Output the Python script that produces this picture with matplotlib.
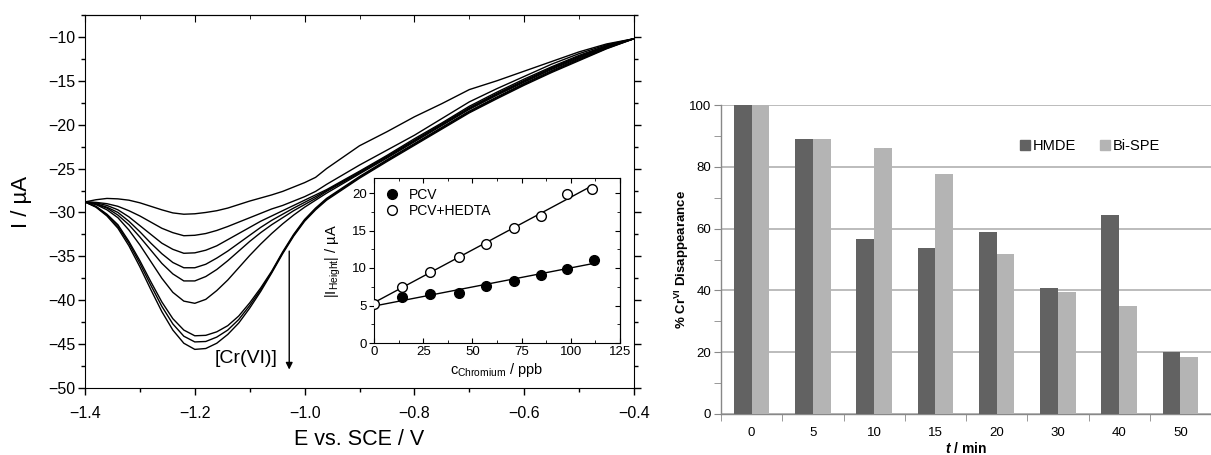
import numpy as np
import matplotlib
matplotlib.use("Agg")
import matplotlib.pyplot as plt
from matplotlib.ticker import MultipleLocator, FixedLocator, NullFormatter
from matplotlib.patches import Patch

plt.rcParams['font.family'] = ['Liberation Sans', 'DejaVu Sans']
plt.rcParams['mathtext.fontset'] = 'custom'
plt.rcParams['mathtext.rm'] = 'Liberation Sans'
plt.rcParams['mathtext.it'] = 'Liberation Sans:italic:bold'
plt.rcParams['mathtext.bf'] = 'Liberation Sans:bold'

# ---------------- Data: voltammograms ----------------
potential = [-1.40, -1.38, -1.36, -1.34, -1.32, -1.30, -1.28, -1.26, -1.24, -1.22,
             -1.20, -1.18, -1.16, -1.14, -1.12, -1.10, -1.08, -1.06, -1.04, -1.02,
             -1.00, -0.98, -0.96, -0.90, -0.85, -0.80, -0.75, -0.70, -0.65, -0.60,
             -0.55, -0.50, -0.45, -0.40]

curve1 = [-28.8, -28.55, -28.4, -28.45, -28.6, -28.9, -29.3, -29.7, -30.05, -30.2,
          -30.15, -30.0, -29.8, -29.5, -29.1, -28.7, -28.35, -28.0, -27.6, -27.1,
          -26.6, -26.0, -25.0, -22.4, -20.8, -19.1, -17.6, -16.0, -15.0, -13.9,
          -12.8, -11.7, -10.8, -10.2]
curve2 = [-28.8, -28.85, -29.0, -29.3, -29.8, -30.4, -31.1, -31.8, -32.3, -32.65,
          -32.6, -32.4, -32.05, -31.6, -31.1, -30.6, -30.1, -29.6, -29.2, -28.7,
          -28.2, -27.6, -26.8, -24.6, -22.9, -21.2, -19.3, -17.4, -15.9, -14.5,
          -13.1, -11.9, -10.9, -10.2]
curve3 = [-28.8, -28.9, -29.2, -29.7, -30.5, -31.5, -32.5, -33.5, -34.2, -34.65,
          -34.6, -34.3, -33.8, -33.1, -32.4, -31.7, -31.0, -30.4, -29.8, -29.2,
          -28.6, -28.0, -27.4, -25.3, -23.5, -21.6, -19.8, -17.9, -16.3, -14.8,
          -13.4, -12.1, -11.0, -10.2]
curve4 = [-28.8, -29.0, -29.4, -30.0, -31.0, -32.2, -33.5, -34.7, -35.7, -36.3,
          -36.3, -35.9, -35.2, -34.4, -33.5, -32.6, -31.7, -30.9, -30.2, -29.5,
          -28.85, -28.2, -27.5, -25.4, -23.6, -21.75, -19.9, -18.05, -16.45, -14.95,
          -13.5, -12.2, -11.05, -10.2]
curve5 = [-28.8, -29.05, -29.5, -30.3, -31.4, -32.8, -34.3, -35.8, -37.0, -37.8,
          -37.8, -37.3, -36.5, -35.5, -34.4, -33.3, -32.3, -31.4, -30.6, -29.8,
          -29.1, -28.4, -27.6, -25.5, -23.7, -21.85, -20.0, -18.15, -16.55, -15.05,
          -13.6, -12.3, -11.1, -10.2]
curve6 = [-28.8, -29.1, -29.7, -30.6, -32.0, -33.7, -35.6, -37.5, -39.1, -40.1,
          -40.35, -39.9, -38.9, -37.7, -36.3, -34.9, -33.6, -32.4, -31.3, -30.3,
          -29.4, -28.6, -27.8, -25.6, -23.8, -21.95, -20.1, -18.25, -16.65, -15.15,
          -13.7, -12.4, -11.15, -10.2]
curve7 = [-28.8, -29.3, -30.2, -31.4, -33.3, -35.5, -37.9, -40.2, -42.1, -43.4,
          -44.05, -44.0, -43.6, -42.9, -41.8, -40.3, -38.6, -36.7, -34.5, -32.5,
          -30.8, -29.5, -28.4, -25.9, -24.0, -22.15, -20.3, -18.45, -16.85, -15.3,
          -13.85, -12.5, -11.25, -10.2]
curve8 = [-28.8, -29.35, -30.3, -31.6, -33.5, -35.8, -38.3, -40.7, -42.7, -44.1,
          -44.75, -44.7, -44.2, -43.4, -42.2, -40.6, -38.8, -36.8, -34.6, -32.6,
          -30.9, -29.6, -28.5, -26.0, -24.1, -22.25, -20.4, -18.55, -16.95, -15.4,
          -13.95, -12.6, -11.3, -10.2]
curve9 = [-28.8, -29.4, -30.4, -31.8, -33.8, -36.2, -38.8, -41.3, -43.4, -44.9,
          -45.6, -45.5, -44.9, -43.9, -42.6, -40.9, -39.0, -36.9, -34.7, -32.7,
          -31.0, -29.7, -28.6, -26.1, -24.2, -22.35, -20.5, -18.65, -17.05, -15.5,
          -14.05, -12.7, -11.35, -10.2]
curves = [curve1, curve2, curve3, curve4, curve5, curve6, curve7, curve8, curve9]

# ---------------- Data: inset calibration ----------------
pcv_conc = [14, 28.5, 43, 57, 71, 85, 98, 112]
pcv_height = [6.1, 6.5, 6.7, 7.6, 8.3, 9.1, 9.9, 11.1]
hedta_conc = [0, 14, 28.5, 43, 57, 71, 85, 98, 111]
hedta_height = [5.2, 7.5, 9.5, 11.5, 13.2, 15.4, 17.0, 19.9, 20.6]

# ---------------- Data: bar chart ----------------
times = ['0', '5', '10', '15', '20', '30', '40', '50']
hmde = [100, 89.1, 56.6, 53.8, 58.8, 40.8, 64.3, 20.0]
bispe = [100, 88.9, 86.0, 77.6, 51.7, 39.4, 34.8, 18.3]

W, H = 1211, 455
fig = plt.figure(figsize=(W / 100, H / 100), dpi=100)

# ---------------- Left main plot ----------------
ax1 = fig.add_axes([85 / W, 1 - 388 / H, (634 - 85) / W, (388 - 15) / H])
for c in curves:
    ax1.plot(potential, c, color='black', lw=1.0)
ax1.set_xlim(-1.4, -0.4)
ax1.set_ylim(-50, -7.5)
ax1.xaxis.set_major_locator(MultipleLocator(0.2))
ax1.xaxis.set_minor_locator(MultipleLocator(0.1))
ax1.yaxis.set_major_locator(MultipleLocator(5))
ax1.yaxis.set_minor_locator(MultipleLocator(2.5))
ax1.tick_params(which='both', direction='out', top=False, right=True, labelsize=11.5)
ax1.tick_params(which='major', length=5, width=1)
ax1.tick_params(which='minor', length=3, width=1)
ax1.tick_params(axis='x', pad=8)
ax1.tick_params(axis='y', pad=2)
sx = ax1.secondary_xaxis('top')
sx.xaxis.set_major_locator(MultipleLocator(0.2))
sx.xaxis.set_minor_locator(MultipleLocator(0.1))
sx.xaxis.set_major_formatter(NullFormatter())
sx.tick_params(which='both', direction='in')
sx.tick_params(which='major', length=5)
sx.tick_params(which='minor', length=3)
ax1.set_xlabel('E vs. SCE / V', fontsize=15.5, labelpad=6)
ax1.set_ylabel('I / µA', fontsize=16)
ax1.yaxis.set_label_coords(-0.097, 0.5)
ax1.annotate('', xy=(-1.028, -47.9), xytext=(-1.028, -34.4),
             arrowprops=dict(arrowstyle='-|>', color='black', lw=1.0,
                             mutation_scale=10, shrinkA=0, shrinkB=0))
ax1.text(-1.05, -46.6, '[Cr(VI)]', fontsize=14, ha='right', va='center')

# ---------------- Inset ----------------
axi = fig.add_axes([374 / W, 1 - 343 / H, (620 - 374) / W, (343 - 178) / H])
axi.plot(pcv_conc, pcv_height, 'o', color='black', ms=7, label='PCV', zorder=3)
axi.plot(hedta_conc, hedta_height, 'o', mfc='white', mec='black', mew=1.0, ms=7,
         label='PCV+HEDTA', zorder=3)
p1 = np.polyfit(pcv_conc, pcv_height, 1)
p2 = np.polyfit(hedta_conc, hedta_height, 1)
xx1 = np.array([0, max(pcv_conc)])
xx2 = np.array([0, max(hedta_conc)])
axi.plot(xx1, np.polyval(p1, xx1), color='black', lw=1.0, zorder=2)
axi.plot(xx2, np.polyval(p2, xx2), color='black', lw=1.0, zorder=2)
axi.set_xlim(0, 125)
axi.set_ylim(0, 22)
axi.xaxis.set_major_locator(MultipleLocator(25))
axi.xaxis.set_minor_locator(MultipleLocator(12.5))
axi.yaxis.set_major_locator(MultipleLocator(5))
axi.yaxis.set_minor_locator(MultipleLocator(2.5))
axi.tick_params(axis='x', which='both', direction='in', top=True, labelsize=9.5, pad=2)
axi.tick_params(axis='y', which='both', direction='out', right=False, labelsize=9.5, pad=1.5)
axi.tick_params(which='major', length=3.5)
axi.tick_params(which='minor', length=2)
sy = axi.secondary_yaxis('right')
sy.yaxis.set_major_locator(MultipleLocator(5))
sy.yaxis.set_minor_locator(MultipleLocator(2.5))
sy.yaxis.set_major_formatter(NullFormatter())
sy.tick_params(which='both', direction='in')
sy.tick_params(which='major', length=3.5)
sy.tick_params(which='minor', length=2)
axi.set_xlabel(r'c$_{\mathrm{Chromium}}$ / ppb', fontsize=10.5, labelpad=2)
axi.set_ylabel(r'|I$_{\mathrm{Height}}$| / µA', fontsize=10.5)
axi.yaxis.set_label_coords(-0.125, 0.5)
axi.legend(loc='upper left', frameon=False, fontsize=10, handletextpad=0.6,
           borderaxespad=0.3, labelspacing=0.15, handlelength=1.2)

# ---------------- Right bar chart ----------------
ax2 = fig.add_axes([721 / W, 1 - 414 / H, (W - 721) / W, (414 - 105) / H])
x = np.arange(len(times))
bw = 0.29
ax2.bar(x - bw / 2, hmde, width=bw, color='#626262', label='HMDE', zorder=3)
ax2.bar(x + bw / 2, bispe, width=bw, color='#b4b4b4', label='Bi-SPE', zorder=3)
ax2.set_xlim(-0.5, len(times) - 0.5)
ax2.set_ylim(0, 100)
ax2.set_xticks(x)
ax2.set_xticklabels(times)
ax2.xaxis.set_minor_locator(FixedLocator(np.arange(len(times) + 1) - 0.5))
ax2.yaxis.set_major_locator(MultipleLocator(20))
ax2.yaxis.set_minor_locator(MultipleLocator(10))
ax2.tick_params(axis='x', which='major', length=0, labelsize=9.5, pad=9)
ax2.tick_params(axis='x', which='minor', length=5, color='#888888')
ax2.tick_params(axis='y', which='both', length=5, color='#888888', labelsize=9.5, pad=2)
ax2.grid(axis='y', which='major', color='#b0b0b0', lw=1.2, zorder=0)
for s in ['top', 'right']:
    ax2.spines[s].set_visible(False)
for s in ['left', 'bottom']:
    ax2.spines[s].set_color('#888888')
    ax2.spines[s].set_linewidth(1.0)
ax2.set_ylabel(r'% Cr$^{\mathbf{VI}}$ Disappearance', fontsize=9.5, fontweight='bold')
ax2.yaxis.set_label_coords(-0.062, 0.5)
ax2.set_xlabel(r'$t$ / min', fontsize=10, fontweight='bold', labelpad=2)
handles = [Patch(color='#626262'), Patch(color='#b4b4b4')]
ax2.legend(handles, ['HMDE', 'Bi-SPE'], ncol=2, frameon=False, fontsize=10.5,
           loc='center left', bbox_to_anchor=((1020 - 721) / 490, (414 - 146) / 309),
           handlelength=0.7, handleheight=0.7, handletextpad=0.2, columnspacing=1.6,
           borderaxespad=0, borderpad=0)

fig.savefig('out.png', dpi=100)
